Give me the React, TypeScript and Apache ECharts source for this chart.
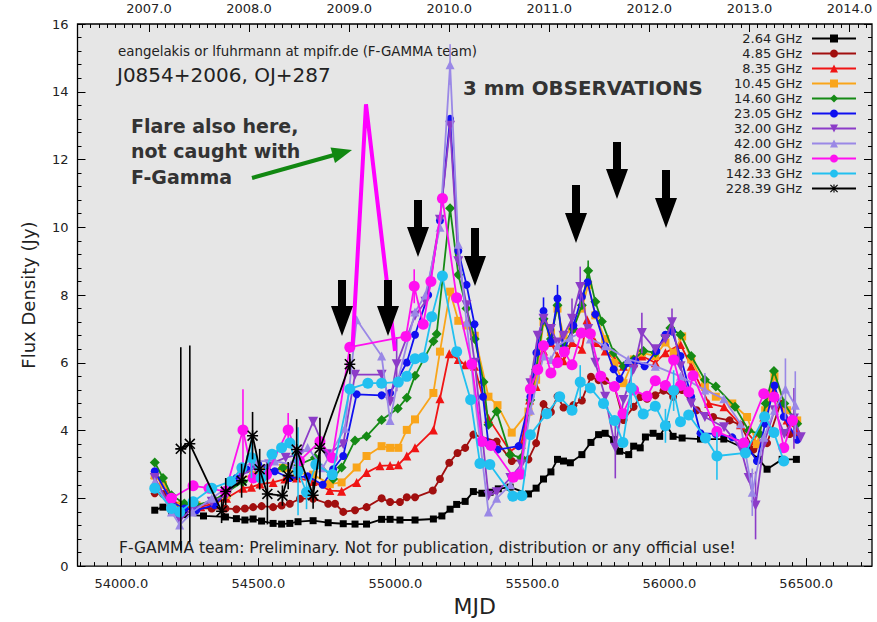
import React, { useEffect, useRef } from "react";
import * as echarts from "echarts";

// ---------------- data ----------------
const seriesNames = ["2.64 GHz", "4.85 GHz", "8.35 GHz", "10.45 GHz", "14.60 GHz", "23.05 GHz", "32.00 GHz", "42.00 GHz", "86.00 GHz", "142.33 GHz", "228.39 GHz"];

const d264 = [[54122,1.65],[54152,1.74],[54183,1.6],[54230,1.52],[54300,1.48],[54380,1.45],[54420,1.40],[54451,1.36],[54481,1.39],[54512,1.33],[54554,1.26],[54585,1.24],[54615,1.26],[54645,1.31],[54700,1.34],[54755,1.28],[54810,1.25],[54853,1.24],[54895,1.24],[54950,1.38],[54981,1.38],[55017,1.36],[55072,1.36],[55139,1.39],[55170,1.48],[55200,1.68],[55224,1.82],[55255,1.91],[55285,2.2],[55316,2.15],[55346,2.18],[55376,2.28],[55419,2.33],[55486,2.13],[55514,2.30],[55541,2.57],[55568,2.78],[55592,3.15],[55614,3.10],[55639,3.05],[55681,3.29],[55714,3.65],[55742,3.88],[55766,3.92],[55797,3.73],[55819,3.39],[55852,3.29],[55870,3.54],[55894,3.49],[55913,3.81],[55941,3.92],[55965,3.83],[55989,4.17],[56014,3.83],[56047,3.78],[56114,3.75],[56199,3.75],[56284,3.44],[56327,3.15],[56357,2.86],[56412,3.15],[56464,3.15]];

const d485 = [[54122,2.15],[54152,2.13],[54183,1.95],[54215,1.8],[54270,1.72],[54330,1.7],[54380,1.7],[54420,1.68],[54451,1.70],[54481,1.74],[54512,1.77],[54554,1.74],[54585,1.79],[54615,1.84],[54652,1.99],[54700,1.99],[54755,1.84],[54780,1.84],[54810,1.60],[54853,1.65],[54895,1.74],[54950,2.00],[54981,1.89],[55017,1.89],[55042,2.03],[55072,2.03],[55137,2.23],[55163,2.57],[55197,3.05],[55227,3.34],[55255,3.49],[55285,3.88],[55370,3.68],[55425,3.10],[55486,3.15],[55514,3.63],[55541,4.78],[55568,4.55],[55592,5.01],[55614,4.68],[55650,4.75],[55681,4.89],[55714,5.59],[55742,5.49],[55766,5.47],[55800,5.3],[55833,4.31],[55870,4.70],[55894,4.99],[55919,4.94],[55949,5.04],[55979,5.18],[56014,5.0],[56047,5.2],[56100,4.6],[56160,4.4],[56220,4.3],[56260,4.17],[56307,3.44],[56357,3.63],[56406,4.80],[56440,3.9],[56467,3.8]];

const d835 = [[54122,2.71],[54152,2.5],[54183,1.95],[54230,1.75],[54290,1.75],[54340,1.85],[54384,2.0],[54444,2.3],[54475,2.33],[54506,2.42],[54554,2.47],[54597,2.57],[54640,2.6],[54700,2.5],[54761,2.23],[54804,2.21],[54859,2.47],[54895,2.76],[54944,2.96],[54981,2.97],[55011,2.99],[55042,3.25],[55072,3.49],[55139,4.02],[55163,4.94],[55197,6.27],[55230,6.1],[55255,5.94],[55289,5.9],[55340,4.36],[55419,3.39],[55460,3.6],[55490,4.9],[55514,5.3],[55541,6.35],[55568,6.6],[55592,6.2],[55614,6.06],[55645,6.6],[55681,6.4],[55700,7.27],[55730,6.6],[55766,6.35],[55800,6.1],[55833,5.9],[55870,6.0],[55900,6.2],[55949,6.0],[55986,6.3],[56041,6.54],[56080,5.9],[56144,4.8],[56200,4.7],[56260,4.17],[56310,3.7],[56345,4.4],[56382,5.18],[56430,4.31],[56467,4.0]];

const d1045 = [[54122,2.67],[54152,2.4],[54183,1.85],[54219,1.79],[54274,1.8],[54340,1.9],[54384,2.1],[54432,2.57],[54481,2.7],[54530,2.8],[54590,2.9],[54640,2.75],[54700,2.7],[54761,2.42],[54804,2.47],[54859,2.91],[54895,3.25],[54950,3.54],[54981,3.49],[55011,3.49],[55042,4.02],[55072,4.33],[55139,5.11],[55163,6.33],[55200,8.1],[55230,7.24],[55260,7.1],[55290,6.8],[55340,5.0],[55373,4.75],[55425,3.94],[55486,4.56],[55514,5.5],[55541,7.2],[55568,6.9],[55592,7.6],[55614,6.8],[55645,7.0],[55681,7.6],[55704,8.3],[55730,7.4],[55766,6.7],[55800,6.0],[55833,5.4],[55870,6.1],[55900,6.3],[55949,6.2],[55986,6.6],[56016,6.3],[56047,6.78],[56080,6.1],[56130,5.3],[56170,5.0],[56230,4.8],[56284,4.4],[56320,3.6],[56350,4.6],[56384,5.6],[56430,4.6],[56467,4.3]];

const d1460 = [[54122,3.06],[54152,2.6],[54183,2.09],[54230,1.85],[54274,1.8],[54340,1.95],[54384,2.18],[54444,2.49],[54481,2.59],[54530,2.75],[54590,2.9],[54650,3.0],[54707,3.2],[54773,2.57],[54804,2.91],[54853,3.71],[54895,3.83],[54950,4.31],[55009,4.65],[55042,4.97],[55072,5.62],[55139,6.64],[55151,6.85],[55200,10.56],[55230,8.6],[55260,7.6],[55290,6.7],[55322,5.43],[55340,4.17],[55370,4.56],[55419,3.29],[55460,3.2],[55493,4.9],[55514,5.8],[55541,7.3],[55568,6.7],[55592,7.7],[55614,6.5],[55650,7.0],[55681,7.7],[55704,8.72,0.3],[55730,7.8],[55754,7.22],[55797,6.3],[55833,5.9],[55870,6.1],[55906,6.35],[55949,6.3],[55986,6.8],[56004,7.03],[56041,6.83],[56080,6.2],[56130,5.5],[56170,5.3],[56240,4.7],[56290,4.0],[56330,3.9],[56352,4.8],[56382,5.76],[56420,4.8],[56467,4.2]];

const d2305 = [[54122,2.8],[54183,1.9],[54230,1.7],[54274,1.65],[54340,1.8],[54384,2.2],[54420,2.6],[54457,2.86],[54500,3.0],[54560,2.8],[54615,2.6],[54680,2.65],[54735,2.4],[54773,2.86],[54810,3.25],[54859,5.07],[54950,5.04],[54981,5.11],[55042,6.01],[55072,6.83],[55120,8.0],[55163,10.2],[55200,13.2],[55230,9.3],[55260,8.3],[55289,7.14],[55320,5.0],[55340,3.6],[55373,3.44],[55450,3.54],[55493,5.0],[55515,6.3],[55541,7.53,0.4],[55568,6.62],[55592,7.9,0.4],[55614,6.3],[55650,7.1],[55681,7.95],[55702,8.38],[55730,7.43],[55766,6.49],[55797,5.81],[55819,5.52],[55850,6.0],[55876,6.06],[55910,5.9],[55953,6.35],[55986,6.83],[56010,6.93],[56041,6.2],[56080,5.0],[56114,3.92],[56170,3.9],[56230,3.8],[56280,3.6],[56320,3.1],[56350,4.2],[56384,5.33],[56418,4.41],[56467,3.73]];

const d3200 = [[54122,2.6],[54183,1.7],[54213,1.36],[54260,1.7],[54330,1.9],[54384,2.1],[54440,2.7],[54490,2.9],[54540,3.0],[54600,3.2],[54650,3.3],[54700,4.26],[54750,3.3],[54810,3.6],[54853,5.65],[54950,5.65],[54981,4.85],[55005,5.96,0.8],[55072,7.39],[55110,7.8],[55163,10.22],[55200,13.0],[55230,9.0],[55260,7.7],[55290,6.0],[55340,2.08],[55370,2.18],[55420,2.6],[55460,3.0],[55493,5.4],[55520,6.8],[55541,7.3],[55568,7.0],[55592,6.6],[55614,6.8],[55645,7.3,0.6],[55675,8.24,0.6],[55704,7.0],[55730,6.0],[55766,5.0],[55803,3.49,0.9],[55833,4.9],[55870,5.8],[55900,6.88,0.6],[55949,6.4],[55986,6.7],[56010,7.2,0.4],[56041,5.9],[56080,4.8],[56130,4.4],[56200,4.1],[56260,3.5],[56290,2.6],[56315,1.79,1.0],[56345,3.6],[56384,4.6],[56420,3.9],[56455,4.36,0.9],[56480,3.8]];

const d4200 = [[54122,2.5],[54183,1.6],[54213,1.21],[54260,1.6],[54330,2.0],[54384,2.3],[54440,2.9],[54490,3.1],[54560,3.1],[54620,3.0],[54680,3.5],[54735,2.9],[54816,4.07],[54859,7.27],[54950,6.2],[54981,4.3],[55010,5.5],[55072,7.5],[55110,8.0],[55163,10.0],[55200,14.8,0.6],[55230,9.5],[55260,7.2],[55290,5.0],[55340,1.6],[55370,2.0],[55420,2.4],[55460,2.9],[55493,4.6],[55541,6.2],[55568,6.1],[55592,6.5],[55639,6.74],[55681,6.9],[55712,6.7],[55766,6.5],[55850,6.1],[55949,5.9],[56041,5.6],[56130,5.2,0.5],[56199,4.94],[56260,4.2],[56303,2.18,0.7],[56345,3.8],[56384,4.6],[56424,5.23,0.9],[56460,4.75,1.0]];

const d8600 = [[54183,2.0],[54262,2.37],[54320,2.3],[54380,2.2],[54444,4.02,1.2],[54481,2.6],[54530,2.7],[54609,4.02,0.5],[54650,3.1],[54725,3.68],[54770,3.2],[54834,6.46],[55039,6.78],[55069,8.26,0.5],[55102,7.14],[55130,8.4],[55172,10.85],[55224,7.92],[55279,5.96],[55316,3.68],[55349,3.56],[55431,2.62],[55456,2.71],[55493,5.23,0.4],[55520,5.8],[55541,6.5],[55568,5.7],[55592,6.0],[55617,6.33],[55645,5.94],[55679,6.88],[55712,6.86],[55750,5.6],[55800,5.3],[55831,4.5],[55870,5.2],[55919,5.01],[55949,5.47],[55986,5.33],[56016,6.08],[56041,5.33],[56071,5.14],[56087,5.62],[56174,3.97],[56272,3.63],[56345,5.09],[56382,4.99],[56418,3.49],[56450,4.3]];

const d14233 = [[54122,2.3],[54183,1.7],[54213,1.6],[54262,1.9],[54330,2.3],[54400,2.5],[54440,2.9],[54475,3.2,0.6],[54510,2.6],[54550,3.3],[54585,3.49],[54615,3.63],[54645,2.8,1.3],[54676,2.18,0.5],[54710,3.0],[54770,2.7],[54834,5.23],[54900,5.4],[54950,5.4],[55011,5.43],[55042,5.6],[55072,6.12],[55102,6.15],[55133,7.36],[55172,8.56],[55224,6.33],[55275,4.91],[55309,3.03],[55345,3.0],[55429,2.06],[55462,2.08],[55493,3.88],[55553,4.5],[55600,5.0],[55645,4.6],[55675,5.43,0.5],[55712,5.26],[55760,4.8],[55800,4.3],[55831,3.65],[55861,5.26,0.6],[55905,4.49],[55949,4.72],[55986,4.14,0.5],[56016,5.18,0.6],[56041,4.26],[56071,4.46],[56132,3.78],[56174,3.25,0.7],[56278,3.34],[56348,4.41],[56382,3.94],[56418,3.1]];

const d22839 = [[54217,3.46,3.0],[54250,3.61,2.9],[54366,1.62,0.35],[54381,2.2,0.4],[54439,2.52,0.5],[54479,3.85,0.7],[54505,2.86,0.6],[54533,2.13,0.9],[54588,2.08,0.3],[54609,2.67,0.4],[54640,3.44,0.9],[54700,2.09,0.4],[54725,3.48,0.9],[54834,5.96,0.3]];

// hand-drawn flare sketch (86 GHz, not observed)
const flareMJD = [54844, 54893, 54999];
const flareFlux = [6.49, 13.63, 6.35];

// axes
const mjdTicks = [54000, 54500, 55000, 55500, 56000, 56500];
const yearLabels = ["2007.0", "2008.0", "2009.0", "2010.0", "2011.0", "2012.0", "2013.0", "2014.0"];
const yearMJD = [54101, 54466, 54832, 55197, 55562, 55927, 56293, 56658];

// ---------------- styles ----------------
const FONT = "DejaVu Sans, Verdana, sans-serif";
const invTri = "path://M0,0 L10,0 L5,9 Z";
const asterisk = "path://M4.3,0 H5.7 V10 H4.3 Z M0,4.3 H10 V5.7 H0 Z M0,1 L1,0 L10,9 L9,10 Z M9,0 L10,1 L1,10 L0,9 Z";

const styles = [
  { color: "#000000", symbol: "rect", size: 7 },
  { color: "#a10f0f", symbol: "circle", size: 8 },
  { color: "#f01414", symbol: "triangle", size: 9 },
  { color: "#f9a51a", symbol: "rect", size: 8 },
  { color: "#158a15", symbol: "diamond", size: 10 },
  { color: "#1010f0", symbol: "circle", size: 8 },
  { color: "#8c3cc8", symbol: invTri, size: 10 },
  { color: "#9a88e6", symbol: "triangle", size: 9 },
  { color: "#ff10f0", symbol: "circle", size: 11 },
  { color: "#22c0f0", symbol: "circle", size: 11 },
  { color: "#000000", symbol: asterisk, size: 11 },
];
const allData = [d264, d485, d835, d1045, d1460, d2305, d3200, d4200, d8600, d14233, d22839];

function arrowPoly(cx: number, top: number, tip: number) {
  const hl = 30, sw = 4, hw = 11;
  return [[cx - sw, top], [cx + sw, top], [cx + sw, tip - hl], [cx + hw, tip - hl], [cx, tip], [cx - hw, tip - hl], [cx - sw, tip - hl]];
}
const arrowPos = [[342, 280, 336], [388, 280, 336], [418, 200, 257], [475, 228, 286], [576, 185, 243], [617, 142, 199], [666, 170, 228]];

export default function App() {
  const ref = useRef<HTMLDivElement>(null);
  useEffect(() => {
    document.body.style.margin = "0";
    const chart = echarts.init(ref.current!, null, { renderer: "svg" });

    const minorBottom: number[] = [];
    for (let v = 53850; v <= 56700; v += 50) if (v % 500 !== 0) minorBottom.push(v);
    const minorTop: number[] = [];
    for (let y = 2006; y <= 2014; y++) for (let m = 1; m < 12; m++) {
      const v = 54101 + (y - 2007 + m / 12) * 365.25;
      if (v > 53840 && v < 56740) minorTop.push(v);
    }

    const lineSeries: any[] = seriesNames.map((name, i) => ({
      name,
      type: "line",
      data: allData[i].map((p) => [p[0], p[1]]),
      symbol: styles[i].symbol,
      symbolSize: styles[i].size,
      showAllSymbol: true,
      lineStyle: { color: styles[i].color, width: 1.8 },
      itemStyle: { color: styles[i].color, borderWidth: 0 },
      emphasis: { disabled: true },
      z: 3 + i * 0.01,
    }));

    const errSeries: any[] = seriesNames.map((name, i) => ({
      name: name + " err",
      type: "custom",
      data: allData[i].filter((p) => p.length > 2),
      encode: { x: 0, y: 1 },
      clip: true,
      z: 3 + i * 0.01,
      renderItem: (params: any, api: any) => {
        const x = api.value(0), y = api.value(1), e = api.value(2);
        const a = api.coord([x, y + e]);
        const b = api.coord([x, y - e]);
        return { type: "line", shape: { x1: a[0], y1: a[1], x2: b[0], y2: b[1] }, style: { stroke: styles[i].color, lineWidth: 1.6 } };
      },
    }));

    const flareSeries = {
      name: "flare",
      type: "line",
      data: flareMJD.map((m, k) => [m, flareFlux[k]]),
      symbol: "none",
      lineStyle: { color: "#ff00ff", width: 4 },
      z: 4,
    };

    const textStyleBase = { fontFamily: FONT, fill: "#222" };
    const graphics: any[] = [
      { type: "text", left: 118, top: 45, style: { ...textStyleBase, text: "eangelakis or lfuhrmann at mpifr.de (F-GAMMA team)", fontSize: 13.4 } },
      { type: "text", left: 117, top: 65, style: { ...textStyleBase, text: "J0854+2006, OJ+287", fontSize: 20 } },
      { type: "text", left: 463, top: 78, style: { fontFamily: FONT, fill: "#333", text: "3 mm OBSERVATIONS", fontSize: 19.8, fontWeight: "bold" } },
      { type: "text", left: 131, top: 113, style: { fontFamily: FONT, fill: "#333", text: "Flare also here,\nnot caught with\nF-Gamma", fontSize: 19, fontWeight: "bold", lineHeight: 25.5 } },
      { type: "text", left: 119, top: 540, style: { ...textStyleBase, text: "F-GAMMA team: Preliminary. Not for publication, distribution or any official use!", fontSize: 15.5 } },
      { type: "line", shape: { x1: 252, y1: 178, x2: 334, y2: 155 }, style: { stroke: "#118811", lineWidth: 4 }, z: 10 },
      { type: "polygon", shape: { points: [[352, 150], [335, 163], [330.5, 147.5]] }, style: { fill: "#118811" }, z: 10 },
      ...arrowPos.map((a) => ({ type: "polygon", shape: { points: arrowPoly(a[0], a[1], a[2]) }, style: { fill: "#000" }, z: 10 })),
    ];

    const axisLabelStyle = { fontFamily: FONT, fontSize: 13, color: "#222" };
    const option: any = {
      animation: false,
      grid: { left: 77.5, right: 5, top: 24, bottom: 47, show: true, backgroundColor: "#e6e6e6", borderColor: "#000", borderWidth: 1.3 },
      legend: {
        data: seriesNames,
        orient: "vertical",
        align: "right",
        right: 20,
        top: 32,
        padding: 0,
        itemWidth: 44,
        itemHeight: 10,
        itemGap: 2,
        selectedMode: false,
        textStyle: { fontFamily: FONT, fontSize: 13, color: "#222", lineHeight: 13, padding: [0, 5, 0, 0] },
      },
      xAxis: [
        {
          type: "value", min: 53840, max: 56740, position: "bottom",
          name: "MJD", nameLocation: "middle", nameGap: 24,
          nameTextStyle: { fontFamily: FONT, fontSize: 22, color: "#222" },
          axisLine: { show: false },
          axisTick: { show: true, inside: true, length: 8, customValues: mjdTicks, lineStyle: { color: "#000" } },
          axisLabel: { ...axisLabelStyle, margin: 11, customValues: mjdTicks, formatter: (v: number) => v.toFixed(1) },
          splitLine: { show: false },
        },
        {
          type: "value", min: 53840, max: 56740, position: "bottom",
          axisLine: { show: false },
          axisTick: { show: true, inside: true, length: 4, customValues: minorBottom, lineStyle: { color: "#000" } },
          axisLabel: { show: false, customValues: minorBottom },
          splitLine: { show: false },
        },
        {
          type: "value", min: 53840, max: 56740, position: "top",
          axisLine: { show: false },
          axisTick: { show: true, inside: true, length: 8, customValues: yearMJD, lineStyle: { color: "#000" } },
          axisLabel: { ...axisLabelStyle, margin: 9, customValues: yearMJD, formatter: (v: number) => yearLabels[yearMJD.indexOf(v)] ?? "" },
          splitLine: { show: false },
        },
        {
          type: "value", min: 53840, max: 56740, position: "top",
          axisLine: { show: false },
          axisTick: { show: true, inside: true, length: 4, customValues: minorTop, lineStyle: { color: "#000" } },
          axisLabel: { show: false, customValues: minorTop },
          splitLine: { show: false },
        },
      ],
      yAxis: [
        {
          type: "value", min: 0, max: 16, interval: 2, position: "left",
          name: "Flux Density (Jy)", nameLocation: "middle", nameGap: 40,
          nameTextStyle: { fontFamily: FONT, fontSize: 18, color: "#222" },
          axisLine: { show: false },
          axisTick: { show: true, inside: true, length: 8, lineStyle: { color: "#000" } },
          minorTick: { show: true, splitNumber: 5, length: 4, lineStyle: { color: "#000" } },
          axisLabel: { ...axisLabelStyle, margin: 9 },
          splitLine: { show: false },
        },
        {
          type: "value", min: 0, max: 16, interval: 2, position: "right",
          axisLine: { show: false },
          axisTick: { show: true, inside: true, length: 8, lineStyle: { color: "#000" } },
          minorTick: { show: true, splitNumber: 5, length: 4, lineStyle: { color: "#000" } },
          axisLabel: { show: false },
          splitLine: { show: false },
        },
      ],
      series: [...errSeries, ...lineSeries, flareSeries],
      graphic: graphics,
    };
    chart.setOption(option);
    return () => chart.dispose();
  }, []);
  return <div ref={ref} style={{ width: 877, height: 622 }} />;
}
